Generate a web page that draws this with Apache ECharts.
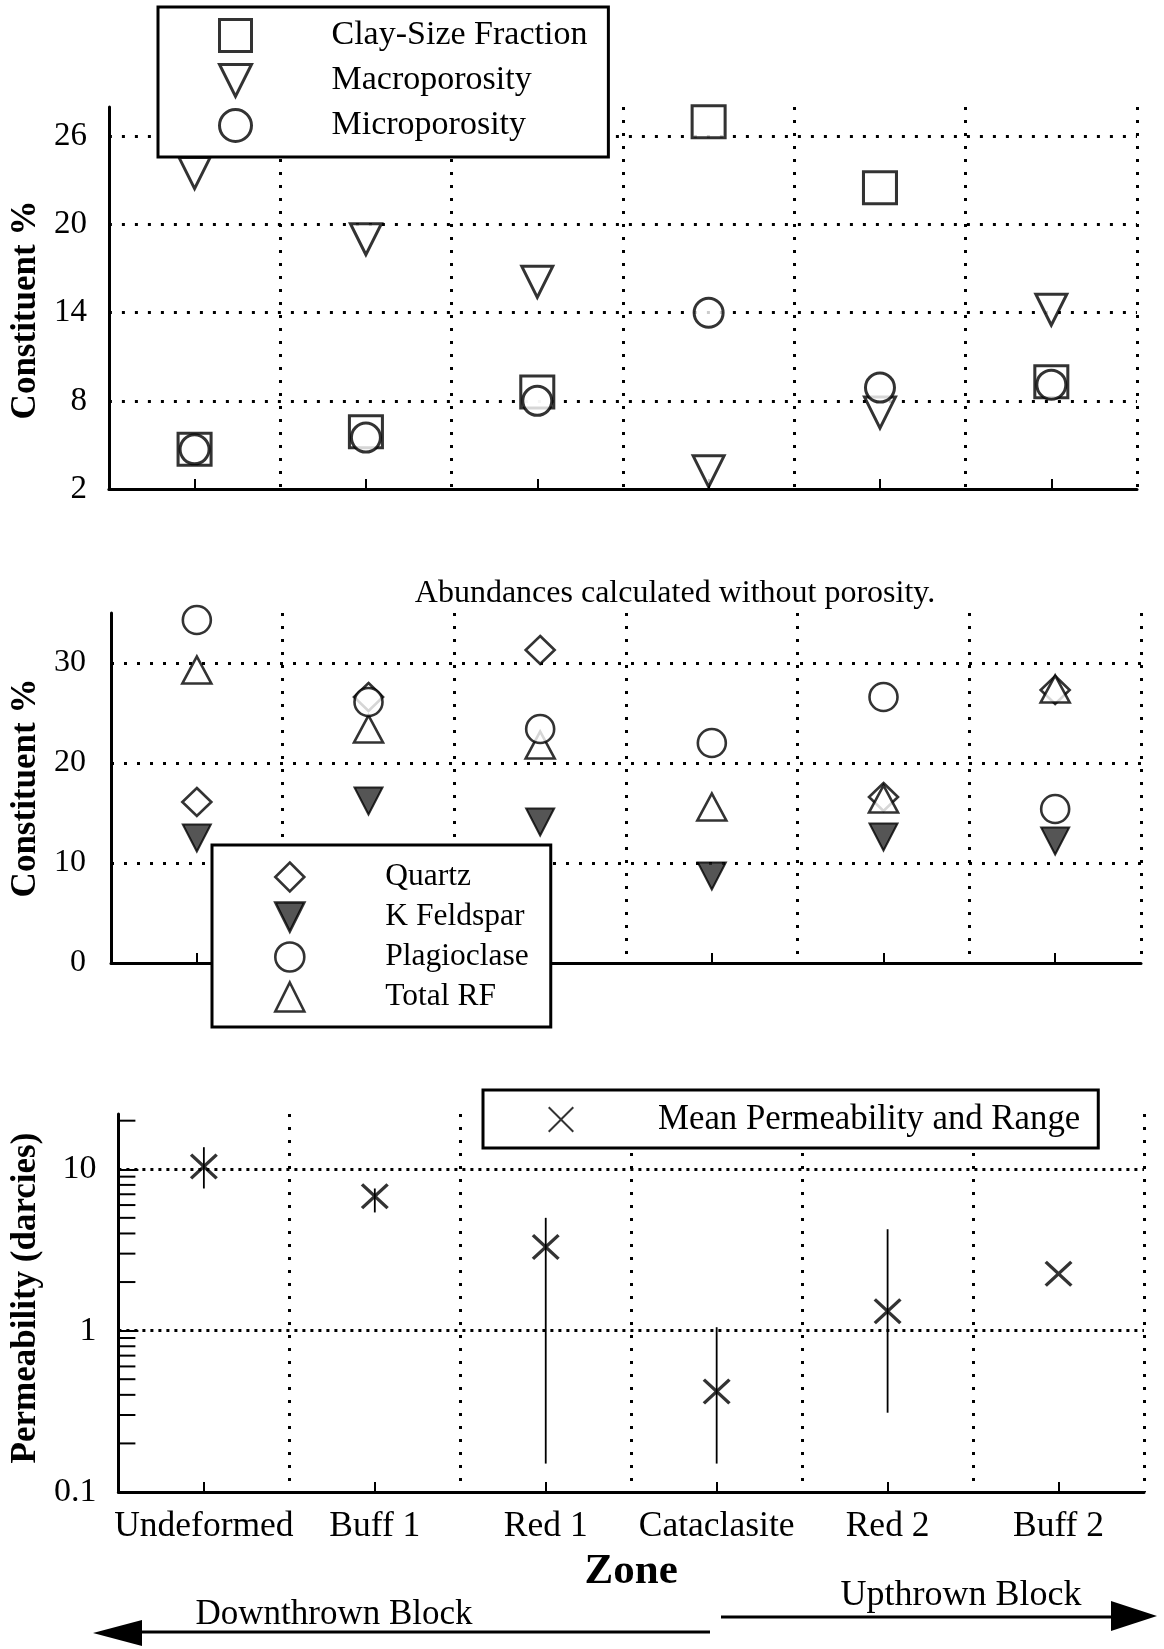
<!DOCTYPE html>
<html>
<head>
<meta charset="utf-8">
<script src="https://cdn.jsdelivr.net/npm/echarts@6/dist/echarts.min.js"></script>
<style>
  html, body { margin: 0; padding: 0; background: #fff; }
  #chart { width: 1164px; height: 1649px; }
</style>
</head>
<body>
<div id="chart"></div>
<script>
// Zones across the fault, from the downthrown to the upthrown block
const zones = ['Undeformed', 'Buff 1', 'Red 1', 'Cataclasite', 'Red 2', 'Buff 2'];

// Upper panel: porosity and clay (constituent %)
const claySize      = [4.7, 5.9, 8.6, 27.0, 22.5, 9.3];
const macroPorosity = [23.5, 19.0, 16.1, 3.2, 7.2, 14.2];
const microPorosity = [4.7, 5.5, 8.0, 14.0, 8.9, 9.1];

// Middle panel: framework grains, abundances calculated without porosity (%)
const quartz      = [16.1, 26.6, 31.3, null, 16.6, 27.3];
const kFeldspar   = [12.5, 16.2, 14.1, 8.7, 12.6, 12.2];
const plagioclase = [34.3, 26.1, 23.4, 22.0, 26.6, 15.4];
const totalRF     = [29.3, 23.4, 21.8, 15.6, 16.4, 27.4];

// Lower panel: permeability in darcies (mean and measured range)
const permMean = [10.4, 6.8, 3.3, 0.42, 1.32, 2.25];
const permLow  = [7.6, 5.4, 0.15, 0.15, 0.31, null];
const permHigh = [13.7, 7.6, 5.0, 1.05, 4.25, null];

// Log-axis minor tick values and axis tick settings
const permMinorTicks = [0.2, 0.3, 0.4, 0.5, 0.6, 0.7, 0.8, 0.9, 2, 3, 4, 5, 6, 7, 8, 9, 20];
const upperTicks = { min: 2, max: 28, interval: 6 };
const middleTicks = { min: 0, max: 35, interval: 10 };
const lowerTicks = { min: 0.1, max: 22 };

const FONT = '"Liberation Serif", "Times New Roman", Times, serif';
const BLACK = '#000';

// X glyph for the mean permeability marker (filled outline of two crossing bars)
const xGlyph = 'path://M8.5,0L50,41.5L91.5,0L100,8.5L58.5,50L100,91.5L91.5,100L50,58.5L8.5,100L0,91.5L41.5,50L0,8.5Z';
const xGlyphThin = 'path://M5.5,0L50,44.5L94.5,0L100,5.5L55.5,50L100,94.5L94.5,100L50,55.5L5.5,100L0,94.5L44.5,50L0,5.5Z';
// Downward-pointing triangle for legend keys
const downTriangle = 'path://M0,0L100,0L50,100Z';

function dotted(gap) {
  return { color: BLACK, width: 3, type: [3, gap], cap: 'butt' };
}

function zoneAxis(gridIndex, withLabels) {
  return {
    type: 'category',
    gridIndex: gridIndex,
    data: zones,
    boundaryGap: true,
    axisLine: { show: true, onZero: false, lineStyle: { color: BLACK, width: 3 } },
    axisTick: { show: true, interval: 0, inside: true, alignWithLabel: true, length: 10, lineStyle: { color: BLACK, width: 2 } },
    axisLabel: withLabels
      ? { show: true, interval: 0, color: BLACK, fontFamily: FONT, fontSize: 35.5, margin: 17, lineHeight: 36 }
      : { show: false, interval: 0 },
    splitLine: { show: true, interval: 0, lineStyle: dotted(10) },
    name: withLabels ? 'Zone' : '',
    nameLocation: 'middle',
    nameGap: 58,
    nameTextStyle: { color: BLACK, fontFamily: FONT, fontSize: 43, fontWeight: 'bold', lineHeight: 43 }
  };
}

function percentAxis(gridIndex, ticks, labelMargin, labelSize, nameGap, namePad) {
  return {
    type: 'value',
    gridIndex: gridIndex,
    min: ticks.min,
    max: ticks.max,
    interval: ticks.interval,
    axisLine: { show: true, onZero: false, lineStyle: { color: BLACK, width: 3 } },
    axisTick: { show: false },
    axisLabel: { color: BLACK, fontFamily: FONT, fontSize: labelSize, margin: labelMargin, showMaxLabel: false },
    splitLine: { show: true, showMinLine: false, showMaxLine: false, lineStyle: dotted(10) },
    name: 'Constituent %',
    nameLocation: 'middle',
    nameGap: nameGap,
    nameTextStyle: { color: BLACK, fontFamily: FONT, fontSize: 35, fontWeight: 'bold', padding: namePad }
  };
}

const openSymbol = { color: '#fff', borderColor: BLACK, borderWidth: 3 };

const option = {
  backgroundColor: '#fff',
  animation: false,
  textStyle: { fontFamily: FONT, color: BLACK },
  grid: [
    { left: 106, right: 27, top: 107, height: 382 },
    { left: 111, right: 23, top: 613, height: 350 },
    { left: 117, right: 20, top: 1114, height: 378 }
  ],
  xAxis: [zoneAxis(0, false), zoneAxis(1, false), zoneAxis(2, true)],
  yAxis: [
    percentAxis(0, upperTicks, 22, 33, 57, [0, 24, 0, 0]),
    percentAxis(1, middleTicks, 25, 32, 63, 0),
    {
      type: 'log',
      logBase: 10,
      gridIndex: 2,
      min: lowerTicks.min,
      max: lowerTicks.max,
      axisLine: { show: true, onZero: false, lineStyle: { color: BLACK, width: 3 } },
      axisTick: { show: true, inside: true, length: 20, lineStyle: { color: BLACK, width: 2 } },
      axisLabel: { color: BLACK, fontFamily: FONT, fontSize: 34, margin: 22, showMaxLabel: false, padding: [16, 0, 0, 0] },
      splitLine: { show: true, showMinLine: false, showMaxLine: false, lineStyle: dotted(5) },
      name: 'Permeability (darcies)',
      nameLocation: 'middle',
      nameGap: 66,
      nameTextStyle: { color: BLACK, fontFamily: FONT, fontSize: 35, fontWeight: 'bold', padding: [0, 0, 0, 10] }
    }
  ],
  legend: [
    {
      data: [
        { name: 'Clay-Size Fraction' },
        { name: 'Macroporosity', icon: downTriangle },
        { name: 'Microporosity' }
      ],
      orient: 'vertical',
      left: 158, top: 7,
      padding: [11, 21, 14, 60],
      itemWidth: 32, itemHeight: 32, itemGap: 10,
      backgroundColor: '#fff', borderColor: BLACK, borderWidth: 3, borderRadius: 0,
      selectedMode: false,
      itemStyle: { borderWidth: 3 },
      textStyle: { color: BLACK, fontFamily: FONT, fontSize: 34, padding: [0, 0, 0, 75] },
      z: 10
    },
    {
      data: [
        { name: 'Quartz' },
        { name: 'K Feldspar', icon: downTriangle },
        { name: 'Plagioclase' },
        { name: 'Total RF' }
      ],
      orient: 'vertical',
      left: 212, top: 845,
      padding: [16, 22, 14, 62],
      itemWidth: 29, itemHeight: 29, itemGap: 8,
      backgroundColor: '#fff', borderColor: BLACK, borderWidth: 3, borderRadius: 0,
      selectedMode: false,
      itemStyle: { borderWidth: 2.6 },
      textStyle: { color: BLACK, fontFamily: FONT, fontSize: 31.5, padding: [0, 0, 0, 76] },
      z: 10
    },
    {
      data: [{ name: 'Mean Permeability and Range', icon: xGlyphThin, itemStyle: { borderWidth: 0 } }],
      orient: 'vertical',
      left: 483, top: 1090,
      padding: [12, 18, 11, 65],
      itemWidth: 30, itemHeight: 26,
      backgroundColor: '#fff', borderColor: BLACK, borderWidth: 3, borderRadius: 0,
      selectedMode: false,
      textStyle: { color: BLACK, fontFamily: FONT, fontSize: 34.8, padding: [0, 0, 0, 77] },
      z: 10
    }
  ],
  series: [
    // Upper panel
    { name: 'Clay-Size Fraction', type: 'scatter', xAxisIndex: 0, yAxisIndex: 0,
      symbol: 'rect', symbolSize: [33, 32], itemStyle: openSymbol, data: claySize },
    { name: 'Macroporosity', type: 'scatter', xAxisIndex: 0, yAxisIndex: 0,
      symbol: 'triangle', symbolRotate: 180, symbolSize: [31, 31], itemStyle: openSymbol, data: macroPorosity },
    { name: 'Microporosity', type: 'scatter', xAxisIndex: 0, yAxisIndex: 0,
      symbol: 'circle', symbolSize: 29, itemStyle: openSymbol, data: microPorosity },

    // Middle panel
    { name: 'Quartz', type: 'scatter', xAxisIndex: 1, yAxisIndex: 1,
      symbol: 'diamond', symbolSize: [29, 28], itemStyle: { color: '#fff', borderColor: BLACK, borderWidth: 2.6 }, data: quartz },
    { name: 'K Feldspar', type: 'scatter', xAxisIndex: 1, yAxisIndex: 1,
      symbol: 'triangle', symbolRotate: 180, symbolSize: [28, 27], itemStyle: { color: '#2b2b2b', borderColor: BLACK, borderWidth: 2 }, data: kFeldspar },
    { name: 'Total RF', type: 'scatter', xAxisIndex: 1, yAxisIndex: 1,
      symbol: 'triangle', symbolSize: [29, 27], itemStyle: { color: '#fff', borderColor: BLACK, borderWidth: 2.6 }, data: totalRF },
    { name: 'Plagioclase', type: 'scatter', xAxisIndex: 1, yAxisIndex: 1,
      symbol: 'circle', symbolSize: 28, itemStyle: { color: '#fff', borderColor: BLACK, borderWidth: 2.6 }, data: plagioclase },

    // Lower panel: minor ticks of the log axis
    { type: 'custom', xAxisIndex: 2, yAxisIndex: 2, silent: true, z: 3,
      data: permMinorTicks.map(v => [zones[0], v]),
      renderItem: function (params, api) {
        const p = api.coord([api.value(0), api.value(1)]);
        const x0 = params.coordSys.x;
        return { type: 'line', shape: { x1: x0, y1: p[1], x2: x0 + 17, y2: p[1] },
                 style: { stroke: BLACK, lineWidth: 2 } };
      }
    },
    // Lower panel: permeability range bars
    { name: 'Permeability range', type: 'custom', xAxisIndex: 2, yAxisIndex: 2, silent: true,
      data: zones.map((z, i) => [z, permLow[i], permHigh[i]]).filter(d => d[1] != null),
      encode: { x: 0, y: [1, 2] },
      renderItem: function (params, api) {
        const lo = api.coord([api.value(0), api.value(1)]);
        const hi = api.coord([api.value(0), api.value(2)]);
        return { type: 'line', shape: { x1: lo[0], y1: lo[1], x2: hi[0], y2: hi[1] },
                 style: { stroke: BLACK, lineWidth: 1.8 } };
      }
    },
    // Lower panel: mean permeability
    { name: 'Mean Permeability and Range', type: 'scatter', xAxisIndex: 2, yAxisIndex: 2,
      symbol: xGlyph, symbolKeepAspect: false, symbolSize: [28, 26],
      itemStyle: { color: BLACK, borderWidth: 0 }, data: permMean, z: 4 }
  ],
  graphic: [
    { type: 'text', x: 675, y: 594,
      style: { text: 'Abundances calculated without porosity.', fontFamily: FONT, fontSize: 32, fill: BLACK, align: 'center', verticalAlign: 'middle' } },
    { type: 'text', x: 334, y: 1615,
      style: { text: 'Downthrown Block', fontFamily: FONT, fontSize: 35, fill: BLACK, align: 'center', verticalAlign: 'middle' } },
    { type: 'text', x: 961, y: 1596,
      style: { text: 'Upthrown Block', fontFamily: FONT, fontSize: 36, fill: BLACK, align: 'center', verticalAlign: 'middle' } },
    { type: 'polyline', shape: { points: [[140, 1632], [710, 1632]] }, style: { stroke: BLACK, lineWidth: 3, fill: null } },
    { type: 'polygon', shape: { points: [[93, 1633], [142, 1620], [142, 1646]] }, style: { fill: BLACK } },
    { type: 'polyline', shape: { points: [[721, 1617], [1113, 1617]] }, style: { stroke: BLACK, lineWidth: 3, fill: null } },
    { type: 'polygon', shape: { points: [[1157, 1616], [1111, 1601], [1111, 1631]] }, style: { fill: BLACK } }
  ]
};

const chart = echarts.init(document.getElementById('chart'));
chart.setOption(option);
</script>
</body>
</html>
